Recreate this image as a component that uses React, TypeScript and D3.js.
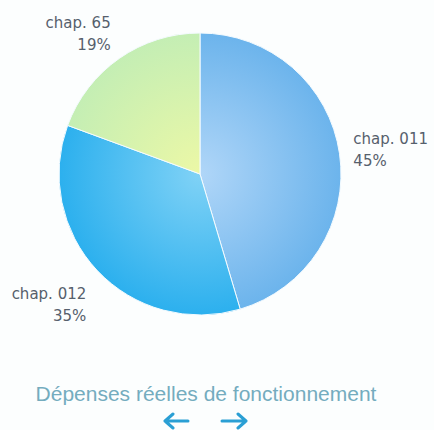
import React from 'react';
import * as d3 from 'd3';

// Dépenses réelles de fonctionnement, by chapter (share in %)
const chapters = ['chap. 011', 'chap. 012', 'chap. 65'];
const shares = [45.4, 35.2, 19.4];
const percentLabels = ['45%', '35%', '19%'];
// inner (light) and outer (edge) colour of each slice
const innerColors = ['#b0d6f8', '#80d2f6', '#ecf8a6'];
const outerColors = ['#6cb4ec', '#2cb0ee', '#c4eeb4'];

const title = 'Dépenses réelles de fonctionnement';

const W = 434;
const H = 430;
const cx = 200;
const cy = 174;
const radius = 141;
const labelRadius = 156;
// small vertical nudges per label, like the original layout
const labelNudge = [-8, 18, -18];

const App: React.FC = () => {
  const pie = d3.pie<number>().sort(null).value(d => d);
  const arcs = pie(shares);
  const arc = d3.arc<d3.PieArcDatum<number>>().innerRadius(0).outerRadius(radius);
  const labelArc = d3.arc<d3.PieArcDatum<number>>().innerRadius(labelRadius).outerRadius(labelRadius);

  const fontLabel = '"DejaVu Sans", Verdana, sans-serif';

  return (
    <svg
      width={W}
      height={H}
      style={{ position: 'absolute', left: 0, top: 0, background: '#fcfefe' }}
    >
      <defs>
        {arcs.map((a, i) => (
          <radialGradient
            key={i}
            id={`slice-grad-${i}`}
            gradientUnits="userSpaceOnUse"
            cx={0}
            cy={0}
            r={radius}
          >
            <stop offset="0%" stopColor={innerColors[i]} />
            <stop offset="100%" stopColor={outerColors[i]} />
          </radialGradient>
        ))}
      </defs>

      <g transform={`translate(${cx},${cy})`}>
        {arcs.map((a, i) => (
          <path
            key={chapters[i]}
            d={arc(a) || ''}
            fill={`url(#slice-grad-${i})`}
            stroke="#f4fbff"
            strokeWidth={1}
          />
        ))}
      </g>

      {arcs.map((a, i) => {
        const [lx, ly] = labelArc.centroid(a);
        const mid = (a.startAngle + a.endAngle) / 2;
        const right = mid < Math.PI;
        const x = cx + lx + (right ? -1 : 0);
        const y = cy + ly + labelNudge[i];
        return (
          <text
            key={chapters[i]}
            x={x}
            y={y}
            textAnchor={right ? 'start' : 'end'}
            fontFamily={fontLabel}
            fontSize={15}
            fill="#56606c"
          >
            <tspan x={x} dy="0">{chapters[i]}</tspan>
            <tspan x={x} dy="22">{percentLabels[i]}</tspan>
          </text>
        );
      })}

      <text
        x={206}
        y={401}
        textAnchor="middle"
        fontFamily='"Liberation Sans", Arial, sans-serif'
        fontSize={21}
        fill="#74acbe"
      >
        {title}
      </text>

      {/* navigation arrows */}
      <g stroke="#2a9fd4" strokeWidth={3} fill="none" strokeLinecap="round" strokeLinejoin="round">
        <path d="M165,421 H188 M173,414 L165,421 L173,428" />
        <path d="M222,421 H246 M238,414 L246,421 L238,428" />
      </g>
    </svg>
  );
};

export default App;
